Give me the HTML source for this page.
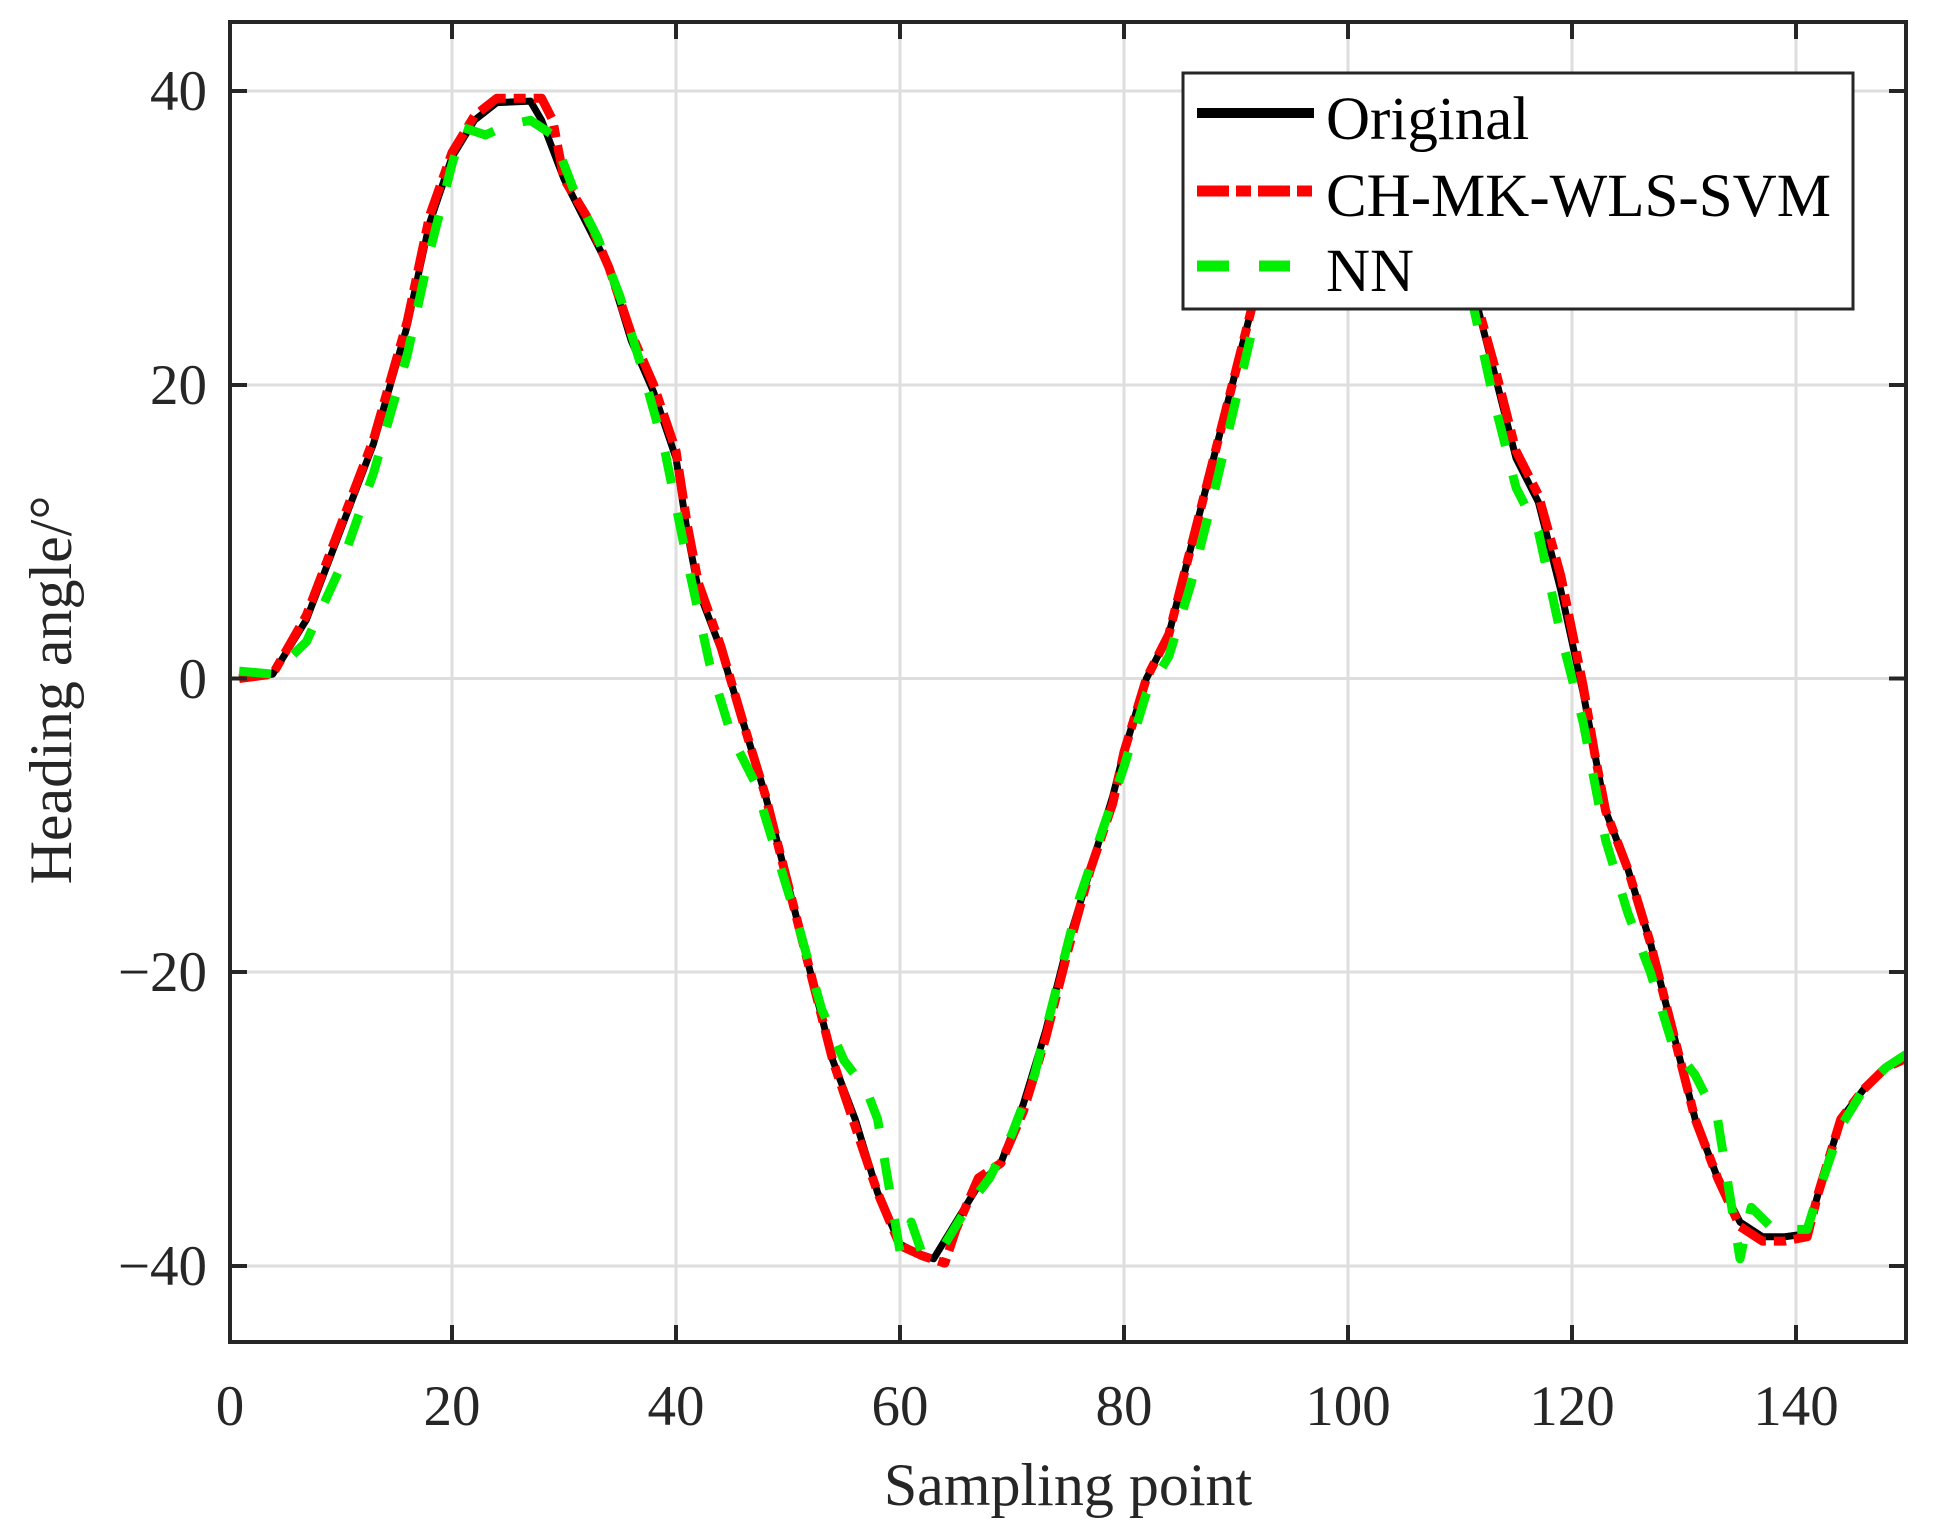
<!DOCTYPE html>
<html><head><meta charset="utf-8"><style>
html,body{margin:0;padding:0;background:#fff}
svg{display:block}
text{font-family:"Liberation Serif",serif;fill:#262626}
</style></head><body>
<svg width="1942" height="1536" viewBox="0 0 1942 1536" xmlns="http://www.w3.org/2000/svg">
<defs><clipPath id="c"><rect x="230" y="22" width="1676" height="1320"/></clipPath></defs>
<g stroke="#dedede" stroke-width="3">
<line x1="452" y1="22" x2="452" y2="1342"/><line x1="676" y1="22" x2="676" y2="1342"/>
<line x1="900" y1="22" x2="900" y2="1342"/><line x1="1124" y1="22" x2="1124" y2="1342"/>
<line x1="1348" y1="22" x2="1348" y2="1342"/><line x1="1572" y1="22" x2="1572" y2="1342"/>
<line x1="1796" y1="22" x2="1796" y2="1342"/>
<line x1="230" y1="91" x2="1906" y2="91"/><line x1="230" y1="385" x2="1906" y2="385"/>
<line x1="230" y1="678.5" x2="1906" y2="678.5"/><line x1="230" y1="972" x2="1906" y2="972"/>
<line x1="230" y1="1266" x2="1906" y2="1266"/>
</g>
<g clip-path="url(#c)">
<g transform="translate(228,678.5) scale(11.2,-14.69)" fill="none" stroke-linejoin="round">
<polyline vector-effect="non-scaling-stroke" stroke="#000" stroke-width="7" points="1,0 4,0.3 7,4 10,10 13,16 16,24 18,31 20,35.5 22,38 24,39.2 27,39.3 28,38 30,34 32,31 34,28 36,23 38,19.5 40,15 41,10 42,6 44,2 46,-3 48,-8 50,-14 52,-20 54,-26 56,-30 58,-35 60,-38.5 62,-39.3 63,-39.5 65,-37 67,-34.5 69,-33 71,-29 73,-24 75,-18 77,-13 79,-8 80,-5 82,0 84,3 86,9 88,15 90,21 92,27 95,33 98,37.5 101,39 104,38 107,34 109,30.5 111,27 113,21 115,15 117,12 119,6 121,-1 122,-5 123,-9 125,-13 127,-18 129,-24 131,-30 133,-34 135,-37 137,-38 139,-38 141,-37.8 142,-35 144,-30 146,-28 148,-26.5 150,-25.8"/>
<polyline vector-effect="non-scaling-stroke" stroke="#ff0000" stroke-width="9" stroke-dasharray="30,8,12,8" points="1,0 4,0.3 7,4.3 10,10.3 13,16.3 16,24.3 18,31.5 20,35.8 22,38.3 24,39.5 28,39.5 29,38 30,34 32,31.5 34,28 36,23.5 38,20 40,15.5 41,10.5 42,6.5 44,2.2 46,-3 48,-8 50,-14 52,-20 54,-26 56,-30.5 58,-35 60,-38.6 62,-39.3 64,-39.8 65,-37.5 67,-34 69,-33 71,-29.5 73,-24.5 75,-18.5 77,-13 79,-8.5 80,-5 82,0 84,3 86,9 88,15 90,21 92,27 95,33 98,37.5 101,39 104,38 107,34 109,30.5 111,27 113,21.5 115,15.5 117,12.5 119,7 121,-0.5 122,-5 123,-9 125,-13 127,-18 129,-24 131,-30 133,-34 135,-37.3 137,-38.3 139,-38.3 141,-38 142,-35 144,-30 146,-28 148,-26.5 150,-25.8"/>
<polyline vector-effect="non-scaling-stroke" stroke="#00ee00" stroke-width="9" stroke-dasharray="32,30" points="1,0.5 4,0.3 7,2.5 10,7.5 13,14 16,22 18,29 20,35 21,37.5 23,37 25,37.7 27,38 29,37 31,33 33,30 35,26 37,21 39,15.5 41,8 43,1 45,-4 47,-7 49,-12 51,-17 53,-22.5 55,-26 57,-28 58,-30 60,-39 61,-37 62,-39.2 64,-38.5 66,-36 68,-34 70,-31 72,-27 74,-21 76,-15 78,-10.5 80,-6 82,-1 84,1.5 86,6.5 88,12.5 90,19 92,25.5 95,32 98,36.5 101,38 104,37 107,33 109,30 111,26 113,19 115,13 117,10 119,3 121,-3 122,-7 123,-11 125,-16 127,-20 129,-25 131,-27 133,-30 135,-39.5 136,-36 138,-37.5 141,-37.5 142,-35 144,-30.5 146,-28 148,-26.5 150,-25.5"/>
</g>
</g>
<g stroke="#262626" stroke-width="4" fill="none">
<rect x="230" y="22" width="1676" height="1320"/>
</g>
<g stroke="#262626" stroke-width="4">
<line x1="452" y1="1342" x2="452" y2="1325"/><line x1="676" y1="1342" x2="676" y2="1325"/><line x1="900" y1="1342" x2="900" y2="1325"/><line x1="1124" y1="1342" x2="1124" y2="1325"/><line x1="1348" y1="1342" x2="1348" y2="1325"/><line x1="1572" y1="1342" x2="1572" y2="1325"/><line x1="1796" y1="1342" x2="1796" y2="1325"/>
<line x1="452" y1="22" x2="452" y2="39"/><line x1="676" y1="22" x2="676" y2="39"/><line x1="900" y1="22" x2="900" y2="39"/><line x1="1124" y1="22" x2="1124" y2="39"/><line x1="1348" y1="22" x2="1348" y2="39"/><line x1="1572" y1="22" x2="1572" y2="39"/><line x1="1796" y1="22" x2="1796" y2="39"/>
<line x1="230" y1="91" x2="247" y2="91"/><line x1="230" y1="385" x2="247" y2="385"/><line x1="230" y1="678.5" x2="247" y2="678.5"/><line x1="230" y1="972" x2="247" y2="972"/><line x1="230" y1="1266" x2="247" y2="1266"/>
<line x1="1906" y1="91" x2="1889" y2="91"/><line x1="1906" y1="385" x2="1889" y2="385"/><line x1="1906" y1="678.5" x2="1889" y2="678.5"/><line x1="1906" y1="972" x2="1889" y2="972"/><line x1="1906" y1="1266" x2="1889" y2="1266"/>
</g>
<g font-size="57" text-anchor="middle">
<text x="230" y="1425">0</text><text x="452" y="1425">20</text><text x="676" y="1425">40</text><text x="900" y="1425">60</text><text x="1124" y="1425">80</text><text x="1348" y="1425">100</text><text x="1572" y="1425">120</text><text x="1796" y="1425">140</text>
</g>
<g font-size="57" text-anchor="end">
<text x="207" y="110">40</text><text x="207" y="404">20</text><text x="207" y="698">0</text><text x="207" y="991">−20</text><text x="207" y="1285">−40</text>
</g>
<text x="1068" y="1505" font-size="60" text-anchor="middle">Sampling point</text>
<text transform="translate(71,690) rotate(-90)" font-size="60" text-anchor="middle">Heading angle/°</text>
<rect x="1183" y="73" width="670" height="236" fill="#fff" stroke="#262626" stroke-width="3"/>
<line x1="1197" y1="113" x2="1314" y2="113" stroke="#000" stroke-width="10"/>
<line x1="1197" y1="191" x2="1314" y2="191" stroke="#ff0000" stroke-width="11" stroke-dasharray="32,7,15,7"/>
<line x1="1197" y1="266" x2="1290" y2="266" stroke="#00ee00" stroke-width="11" stroke-dasharray="32,30"/>
<g font-size="61">
<text x="1326" y="139" style="fill:#000">Original</text>
<text x="1326" y="216" style="fill:#000">CH-MK-WLS-SVM</text>
<text x="1326" y="291" style="fill:#000">NN</text>
</g>
</svg>
</body></html>
